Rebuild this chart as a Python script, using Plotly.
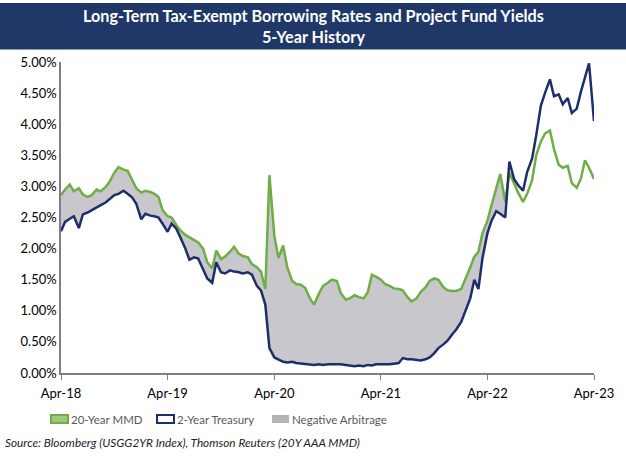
import pandas as pd
import plotly.graph_objects as go

# semi-monthly observations, Apr 2018 - Apr 2023
dates = pd.date_range("2018-04-01", "2023-04-01", freq="SMS")

mmd_20y = [
    2.86, 2.95, 3.03, 2.92, 2.97, 2.87, 2.83, 2.86, 2.95, 2.92, 2.99, 3.08,
    3.22, 3.31, 3.27, 3.25, 3.10, 2.97, 2.90, 2.93, 2.91, 2.88, 2.83, 2.62,
    2.52, 2.50, 2.38, 2.29, 2.22, 2.18, 2.14, 2.10, 2.00, 1.78, 1.68, 1.97,
    1.83, 1.87, 1.95, 2.03, 1.92, 1.88, 1.86, 1.75, 1.70, 1.63, 1.35, 3.18,
    2.20, 1.85, 2.05, 1.70, 1.48, 1.43, 1.42, 1.37, 1.20, 1.10, 1.28, 1.40,
    1.45, 1.50, 1.48, 1.28, 1.18, 1.20, 1.25, 1.22, 1.20, 1.30, 1.58, 1.55,
    1.50, 1.43, 1.40, 1.36, 1.35, 1.33, 1.22, 1.15, 1.20, 1.30, 1.38, 1.48,
    1.52, 1.50, 1.38, 1.33, 1.32, 1.32, 1.35, 1.50, 1.70, 1.87, 1.95, 2.25,
    2.45, 2.70, 2.97, 3.20, 2.75, 3.22, 3.05, 2.90, 2.75, 2.88, 3.10, 3.50,
    3.72, 3.85, 3.90, 3.60, 3.35, 3.30, 3.33, 3.05, 2.98, 3.12, 3.42, 3.30,
    3.12,
]

treasury_2y = [
    2.28, 2.43, 2.48, 2.52, 2.33, 2.55, 2.58, 2.62, 2.66, 2.70, 2.74, 2.80,
    2.86, 2.88, 2.93, 2.88, 2.82, 2.72, 2.47, 2.56, 2.53, 2.52, 2.50, 2.40,
    2.27, 2.40, 2.32, 2.18, 2.00, 1.82, 1.86, 1.84, 1.66, 1.52, 1.45, 1.78,
    1.62, 1.60, 1.65, 1.63, 1.62, 1.60, 1.62, 1.58, 1.40, 1.33, 1.10, 0.40,
    0.25, 0.22, 0.18, 0.17, 0.18, 0.16, 0.15, 0.14, 0.13, 0.13, 0.14, 0.13,
    0.14, 0.14, 0.15, 0.14, 0.13, 0.12, 0.11, 0.12, 0.11, 0.13, 0.12, 0.14,
    0.14, 0.13, 0.14, 0.15, 0.16, 0.24, 0.22, 0.22, 0.21, 0.20, 0.22, 0.25,
    0.32, 0.40, 0.46, 0.52, 0.62, 0.70, 0.82, 0.98, 1.20, 1.50, 1.35, 1.85,
    2.25, 2.45, 2.60, 2.56, 2.50, 3.40, 3.12, 3.02, 2.93, 3.23, 3.45, 3.82,
    4.30, 4.50, 4.72, 4.45, 4.48, 4.32, 4.42, 4.18, 4.25, 4.52, 4.75, 4.98,
    4.05,
]

year_ticks = pd.date_range("2018-04-01", "2023-04-01", freq="12MS")
y_ticks = [0, 0.5, 1, 1.5, 2, 2.5, 3, 3.5, 4, 4.5, 5]
y_labels = [f"{v:.2f}%" for v in y_ticks]

legend_names = ["20-Year MMD", "2-Year Treasury", "Negative Arbitrage"]

green = "#6FAD47"
navy = "#1D2F6A"
grey = "#C8C8CC"

# top edge of the arbitrage band: only where MMD sits above treasury
band_top = [max(a, b) for a, b in zip(mmd_20y, treasury_2y)]

fig = go.Figure()

fig.add_trace(go.Scatter(x=dates, y=treasury_2y, mode="lines",
                         line=dict(width=0), showlegend=False, hoverinfo="skip"))
fig.add_trace(go.Scatter(x=dates, y=band_top, mode="lines", fill="tonexty",
                         fillcolor=grey, line=dict(width=0),
                         showlegend=False, hoverinfo="skip"))
fig.add_trace(go.Scatter(x=dates, y=mmd_20y, mode="lines", name=legend_names[0],
                         line=dict(color=green, width=2.5), showlegend=False))
fig.add_trace(go.Scatter(x=dates, y=treasury_2y, mode="lines", name=legend_names[1],
                         line=dict(color=navy, width=2.5), showlegend=False))

# title band
fig.add_shape(type="rect", xref="paper", yref="paper", x0=-0.2, x1=1.2,
              y0=1.04, y1=1.19, fillcolor="#1F3868", line=dict(width=0), layer="below")
fig.add_annotation(text="<b>Long-Term Tax-Exempt Borrowing Rates and Project Fund Yields</b><br><b>5-Year History</b>",
                   xref="paper", yref="paper", x=0.474, y=1.115, yanchor="middle",
                   showarrow=False, align="center",
                   font=dict(family="Lato", size=16.2, color="white"))

# hand-drawn legend: boxes + labels below the axis (paper coords)
def px_x(x):
    return (x - 61) / 533

def px_y(y):
    return (373 - y) / 311

legend_style = [
    dict(fill="#9BC97E", line=green, lw=2, left=51),
    dict(fill="white", line=navy, lw=2, left=157),
    dict(fill="#B4B4B8", line="#B4B4B8", lw=0, left=272),
]
for name, st in zip(legend_names, legend_style):
    fig.add_shape(type="rect", xref="paper", yref="paper",
                  x0=px_x(st["left"]), x1=px_x(st["left"] + 17),
                  y0=px_y(423), y1=px_y(415), fillcolor=st["fill"],
                  line=dict(color=st["line"], width=st["lw"]))
    fig.add_annotation(text=name, xref="paper", yref="paper",
                       x=px_x(st["left"] + 18), y=px_y(419), xanchor="left",
                       yanchor="middle", showarrow=False,
                       font=dict(family="Lato", size=11.5, color="#595959"))

fig.add_annotation(text="<i>Source: Bloomberg (USGG2YR Index), Thomson Reuters (20Y AAA MMD)</i>",
                   xref="paper", yref="paper", x=-0.109, y=-0.222, xanchor="left",
                   yanchor="middle", showarrow=False,
                   font=dict(family="Lato", size=11.8, color="#222"))

fig.update_layout(
    width=626, height=460,
    margin=dict(l=61, r=32, t=62, b=87),
    paper_bgcolor="white", plot_bgcolor="white",
    font=dict(family="Lato", size=13, color="black"),
    showlegend=False,
    xaxis=dict(range=[dates[0], dates[-1]], tickvals=year_ticks,
               tickformat="%b-%y", showgrid=False, showline=True,
               linecolor="#7F7F7F", linewidth=1.5, ticks="outside",
               tickcolor="#7F7F7F", ticklen=5, zeroline=False,
               ticklabelstandoff=3),
    yaxis=dict(range=[0, 5], tickvals=y_ticks, ticktext=y_labels,
               showgrid=False, showline=True, linecolor="#7F7F7F", linewidth=1.5,
               zeroline=False, ticks=""),
)

fig.write_html("out.html", config={"displayModeBar": False},
               post_script="document.body.style.margin='0px';")
